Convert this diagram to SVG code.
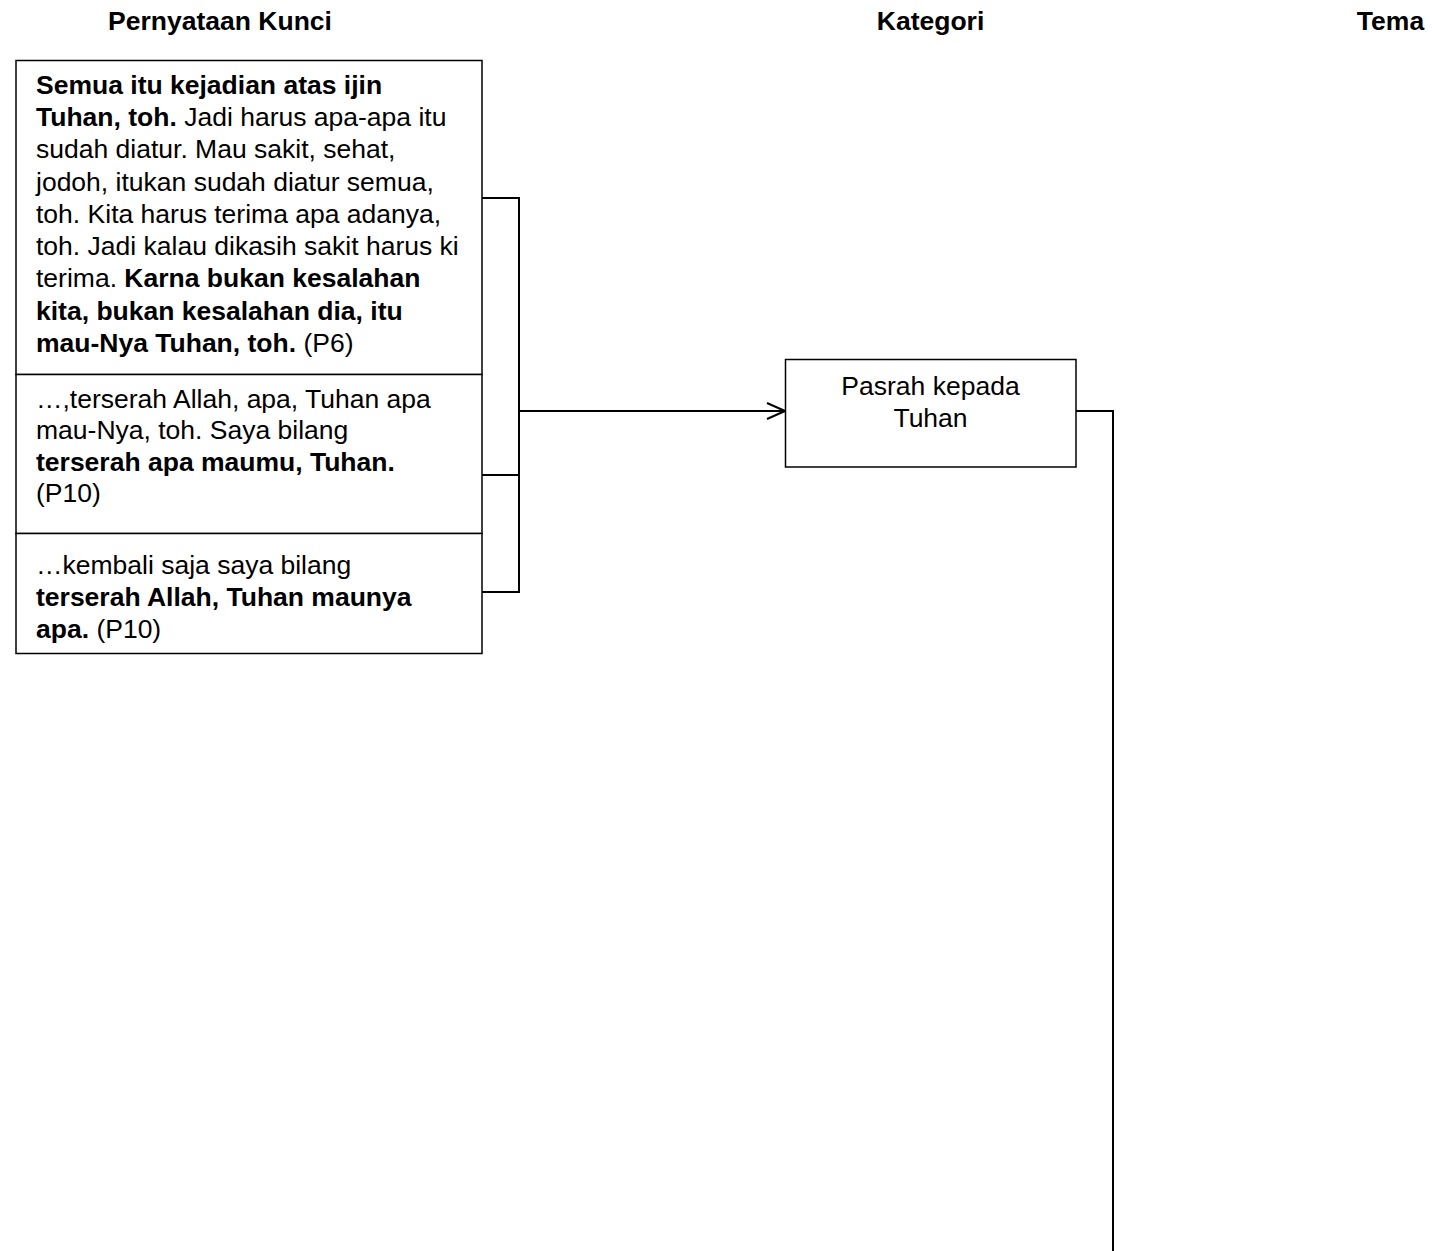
<svg xmlns="http://www.w3.org/2000/svg" width="1432" height="1251" viewBox="0 0 1432 1251">
<style>
text{font-family:"Liberation Sans",Arial,sans-serif;font-size:26.5px;fill:#000}
.b{font-weight:bold}
.h{font-weight:bold;text-anchor:middle}
.c{text-anchor:middle}
.box{fill:#fff;stroke:#000;stroke-width:1.5}
.ln{fill:none;stroke:#000;stroke-width:2}
</style>
<defs>
<marker id="arr" viewBox="0 0 20 18" refX="19" refY="9" markerWidth="20" markerHeight="18" markerUnits="userSpaceOnUse" orient="auto">
<path d="M1,1 L19,9 L1,17" fill="none" stroke="#000" stroke-width="2"/>
</marker>
</defs>
<g id="headers">
<text class="h" x="220" y="30">Pernyataan Kunci</text>
<text class="h" x="930.5" y="30">Kategori</text>
<text class="h" x="1390.5" y="30">Tema</text>
</g>
<g id="connectors">
<path class="ln" d="M482,198 H519 V592 H482 M482,475 H519"/>
<path class="ln" d="M519,411 H785" marker-end="url(#arr)"/>
<path class="ln" d="M1076,411 H1113 V1251"/>
</g>
<g id="statement-1">
<rect class="box" x="16" y="60.5" width="466" height="314"/>
<text x="36" y="94"><tspan class="b">Semua itu kejadian atas ijin</tspan></text>
<text x="36" y="126"><tspan class="b">Tuhan, toh.</tspan> Jadi harus apa-apa itu</text>
<text x="36" y="158">sudah diatur. Mau sakit, sehat,</text>
<text x="36" y="191">jodoh, itukan sudah diatur semua,</text>
<text x="36" y="223">toh. Kita harus terima apa adanya,</text>
<text x="36" y="255">toh. Jadi kalau dikasih sakit harus ki</text>
<text x="36" y="287">terima. <tspan class="b">Karna bukan kesalahan</tspan></text>
<text x="36" y="320"><tspan class="b">kita, bukan kesalahan dia, itu</tspan></text>
<text x="36" y="352"><tspan class="b">mau-Nya Tuhan, toh.</tspan> (P6)</text>
</g>
<g id="statement-2">
<rect class="box" x="16" y="374.5" width="466" height="159"/>
<text x="36" y="408">…,terserah Allah, apa, Tuhan apa</text>
<text x="36" y="439">mau-Nya, toh. Saya bilang</text>
<text x="36" y="471"><tspan class="b">terserah apa maumu, Tuhan.</tspan></text>
<text x="36" y="502">(P10)</text>
</g>
<g id="statement-3">
<rect class="box" x="16" y="533.5" width="466" height="120"/>
<text x="36" y="574">…kembali saja saya bilang</text>
<text x="36" y="606"><tspan class="b">terserah Allah, Tuhan maunya</tspan></text>
<text x="36" y="638"><tspan class="b">apa.</tspan> (P10)</text>
</g>
<g id="category-pasrah">
<rect class="box" x="785.5" y="359.5" width="290.5" height="107.5"/>
<text class="c" x="930.5" y="395">Pasrah kepada</text>
<text class="c" x="930.5" y="427">Tuhan</text>
</g>
</svg>
